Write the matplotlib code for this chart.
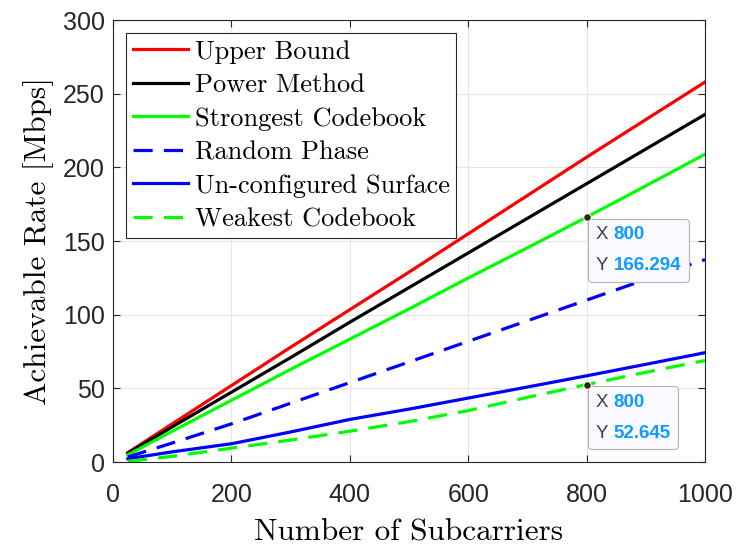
import numpy as np
import matplotlib
matplotlib.use("Agg")
import matplotlib.pyplot as plt
from matplotlib.offsetbox import TextArea, HPacker, VPacker, AnnotationBbox

# data
subcarriers = [25, 100, 200, 300, 400, 500, 600, 700, 800, 900, 1000]
upper_bound = [6.5, 26, 52, 78, 103.5, 129, 155, 181, 207, 232.5, 258]
power_method = [6, 24, 47.5, 71, 95, 118.5, 142, 165.5, 189, 212.5, 236]
strongest = [5, 21, 42, 63, 83.5, 104, 125, 145.5, 166.294, 187.5, 209]
random_phase = [3.5, 13, 26, 40, 54, 68, 82, 96, 110, 124, 137.5]
unconfigured = [2.3, 7, 12.5, 20.5, 29, 36, 43.5, 51, 58.6, 66.4, 74.3]
weakest = [0.5, 4, 9.5, 15, 21, 27.5, 35, 44, 52.645, 61, 69]

tips = [(800, 166.294), (800, 52.645)]

serif = "cmr10"
plt.rcParams["font.family"] = ["Liberation Sans", "DejaVu Sans"]

fig = plt.figure(figsize=(7.39, 5.45), dpi=100)
ax = fig.add_axes([0.153, 0.152, 0.801, 0.811])

lw = 2.3
dash = (0, (6, 3.5))
ax.plot(subcarriers, upper_bound, color="#ff0000", lw=lw, label="Upper Bound")
ax.plot(subcarriers, power_method, color="black", lw=lw, label="Power Method")
ax.plot(subcarriers, strongest, color="#00ff00", lw=lw, label="Strongest Codebook")
ax.plot(subcarriers, random_phase, color="#0000ff", lw=lw, ls=dash, label="Random Phase")
ax.plot(subcarriers, unconfigured, color="#0000ff", lw=lw, label="Un-configured Surface")
ax.plot(subcarriers, weakest, color="#00ff00", lw=lw, ls=dash, label="Weakest Codebook")

ax.set_xlim(0, 1000)
ax.set_ylim(0, 300)
ax.set_xticks(np.arange(0, 1001, 200))
ax.set_yticks(np.arange(0, 301, 50))
ax.grid(True, color="#e6e6e6", lw=0.8)
ax.set_axisbelow(True)
ax.tick_params(direction="in", top=True, right=True, labelsize=18, length=5,
               color="#262626", labelcolor="#262626")
ax.tick_params(axis="x", pad=15)
ax.tick_params(axis="y", pad=6)
for s in ax.spines.values():
    s.set_color("#262626")
    s.set_linewidth(0.8)

ax.set_xlabel("Number of Subcarriers", fontfamily=serif, fontsize=22.5, labelpad=8)
ax.set_ylabel("Achievable Rate [Mbps]", fontfamily=serif, fontsize=22.5, labelpad=6)

leg = ax.legend(loc="upper left", prop={"family": serif, "size": 19},
                fancybox=False, edgecolor="#262626", framealpha=1,
                borderaxespad=0.5, handlelength=2.1, handletextpad=0.25,
                labelspacing=0.37, borderpad=0.25)
leg.get_frame().set_linewidth(0.8)

# data tips
for x, y in tips:
    ax.plot(x, y, "o", ms=5.5, mfc="#262626", mec="#ffffcc", mew=0.8, zorder=7)
    row1 = HPacker(children=[TextArea("X", textprops=dict(color="#404040", fontsize=13.5)),
                             TextArea(f"{x:g}", textprops=dict(color="#0f9bff", fontsize=13.5, fontweight="bold"))],
                   pad=0, sep=4)
    row2 = HPacker(children=[TextArea("Y", textprops=dict(color="#404040", fontsize=13.5)),
                             TextArea(f"{y:.6g}", textprops=dict(color="#0f9bff", fontsize=13.5, fontweight="bold"))],
                   pad=0, sep=10)
    row2 = HPacker(children=row2.get_children(), pad=0, sep=4)
    box = VPacker(children=[row1, row2], pad=0, sep=10, align="left")
    ab = AnnotationBbox(box, (x, y), xybox=(6.5, -6.5), xycoords="data",
                        boxcoords="offset points", box_alignment=(0, 1),
                        pad=0.55, frameon=True,
                        bboxprops=dict(boxstyle="round,pad=0.55,rounding_size=0.3",
                                       fc="#f9f9ff", ec="#b4b4b4", lw=0.8))
    ab.set_zorder(6)
    ax.add_artist(ab)

fig.savefig("out.png", dpi=100)
